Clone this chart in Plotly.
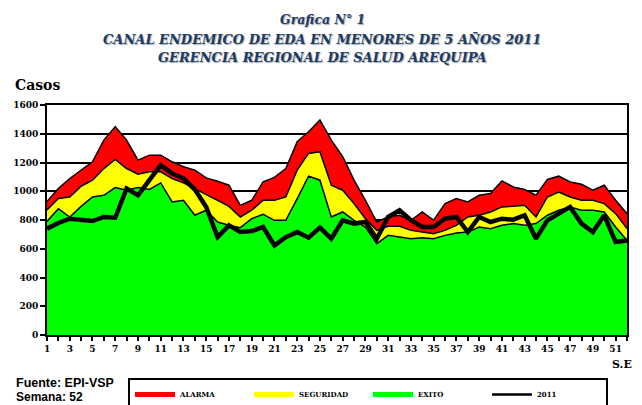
import plotly.graph_objects as go

weeks = list(range(1, 53))
alarma = [930, 1019, 1089, 1147, 1205, 1356, 1449, 1356, 1216, 1251,
          1251, 1205, 1170, 1147, 1093, 1070, 1042, 902, 937, 1065,
          1096, 1158, 1344, 1414, 1496, 1356, 1240, 1077, 937, 786,
          821, 833, 798, 856, 798, 914, 949, 926, 972, 984,
          1072, 1030, 1012, 972, 1082, 1105, 1065, 1049, 1007, 1042,
          937, 844]
seguridad = [870, 949, 960, 1035, 1077, 1158, 1221, 1158, 1119, 1135,
             1135, 1088, 1058, 1019, 977, 937, 895, 821, 868, 937,
             937, 960, 1147, 1263, 1275, 1042, 1007, 914, 809, 728,
             756, 756, 728, 716, 705, 728, 763, 821, 833, 856,
             891, 895, 902, 821, 960, 995, 960, 937, 937, 914,
             844, 740]
exito = [790, 879, 821, 895, 960, 972, 1026, 1007, 1026, 1012,
         1058, 926, 937, 833, 868, 786, 763, 747, 809, 840,
         798, 798, 949, 1105, 1077, 821, 856, 798, 751, 635,
         693, 681, 670, 677, 670, 693, 709, 716, 751, 740,
         763, 775, 763, 775, 833, 868, 891, 868, 868, 856,
         751, 658]
casos_2011 = [740, 779, 809, 802, 793, 821, 816, 1019, 972, 1077,
              1182, 1123, 1089, 1012, 891, 681, 763, 716, 723, 751,
              623, 681, 716, 677, 747, 670, 798, 775, 786, 670,
              821, 868, 798, 751, 751, 809, 821, 716, 821, 786,
              809, 802, 833, 670, 798, 844, 891, 775, 716, 833,
              647, 658]
y_ticks = [0, 200, 400, 600, 800, 1000, 1200, 1400, 1600]
x_tick_labels = [str(w) if w % 2 == 1 else "" for w in weeks]

# page body adds an 8px margin; figure sized to fill the rest of the window
OFF = 8
W, H = 642 - OFF, 405 - OFF
ML, MR, MT, MB = 47 - OFF, 15, 105 - OFF, 70
PW, PH = W - ML - MR, H - MT - MB


def px(x):  # screen pixel -> paper x
    return (x - OFF - ML) / PW


def py(y):  # screen pixel -> paper y
    return (OFF + H - MB - y) / PH


def cy(y):  # screen pixel -> container y
    return 1 - (y - OFF) / H


SERIF = "DejaVu Serif"
fig = go.Figure()

areas = [("ALARMA", alarma, "#FF0000"),
         ("SEGURIDAD", seguridad, "#FFFF00"),
         ("EXITO", exito, "#00FF00")]
for name, vals, col in areas:
    fig.add_trace(go.Scatter(x=weeks, y=vals, mode="lines", fill="tozeroy",
                             fillcolor=col, line=dict(color="black", width=1.5),
                             showlegend=False, hoverinfo="skip"))
fig.add_trace(go.Scatter(x=weeks, y=casos_2011, mode="lines",
                         line=dict(color="black", width=4.5), showlegend=False))

for name, vals, col in areas:
    fig.add_trace(go.Scatter(x=[None], y=[None], mode="lines", name=name,
                             line=dict(color=col, width=5)))
fig.add_trace(go.Scatter(x=[None], y=[None], mode="lines", name="2011",
                         line=dict(color="black", width=2.5)))

fig.update_layout(
    width=W, height=H,
    margin=dict(l=ML, r=MR, t=MT, b=MB, autoexpand=False),
    paper_bgcolor="white", plot_bgcolor="white",
    showlegend=True,
    legend=dict(orientation="h", x=px(128), y=cy(378), yref="container",
                xanchor="left", yanchor="top",
                bordercolor="black", borderwidth=2, bgcolor="white",
                font=dict(family=SERIF, size=7, color="black", weight="bold"),
                itemwidth=40, entrywidth=64, entrywidthmode="pixels",
                tracegroupgap=0),
    xaxis=dict(range=[1, 52], tickvals=weeks, ticktext=x_tick_labels,
               ticks="outside", ticklen=4, tickwidth=2, tickcolor="black",
               showline=True, linecolor="black", linewidth=2, mirror=True,
               showgrid=False, zeroline=False,
               tickfont=dict(family=SERIF, size=9, color="black", weight="bold")),
    yaxis=dict(range=[0, 1600], tickvals=y_ticks,
               ticks="outside", ticklen=5, tickwidth=2, tickcolor="black",
               showline=True, linecolor="black", linewidth=2, mirror=True,
               showgrid=True, gridcolor="black", gridwidth=1.5, zeroline=False,
               layer="below traces",
               tickfont=dict(family=SERIF, size=9, color="black", weight="bold")),
)

navy = "#1F3A66"
tshadow = "1px 1px 1px #9aa"
title_lines = [("Grafica N° 1", 20, 12.5),
               ("CANAL ENDEMICO DE EDA EN MENORES DE 5 AÑOS 2011", 39, 13),
               ("GERENCIA REGIONAL DE SALUD AREQUIPA", 57, 13)]
for txt, ypix, size in title_lines:
    fig.add_annotation(text=f"<b><i>{txt}</i></b>", xref="paper", yref="paper",
                       x=px(322), y=py(ypix), showarrow=False,
                       xanchor="center", yanchor="middle",
                       font=dict(family=SERIF, size=size, color=navy, shadow=tshadow))

fig.add_annotation(text="<b>Casos</b>", xref="paper", yref="paper",
                   x=px(13), y=py(85), xanchor="left", yanchor="middle", showarrow=False,
                   font=dict(family=SERIF, size=14, color="black"))
fig.add_annotation(text="<b>S.E</b>", xref="paper", yref="paper",
                   x=px(610), y=py(364), xanchor="left", yanchor="middle", showarrow=False,
                   font=dict(family=SERIF, size=11, color="black"))
fig.add_annotation(text="<b>Fuente: EPI-VSP</b>", xref="paper", yref="paper",
                   x=px(14), y=py(383), xanchor="left", yanchor="middle", showarrow=False,
                   font=dict(family="Liberation Sans", size=12.5, color="black"))
fig.add_annotation(text="<b>Semana: 52</b>", xref="paper", yref="paper",
                   x=px(14), y=py(397), xanchor="left", yanchor="middle", showarrow=False,
                   font=dict(family="Liberation Sans", size=12, color="black"))

fig.write_html("out.html")
